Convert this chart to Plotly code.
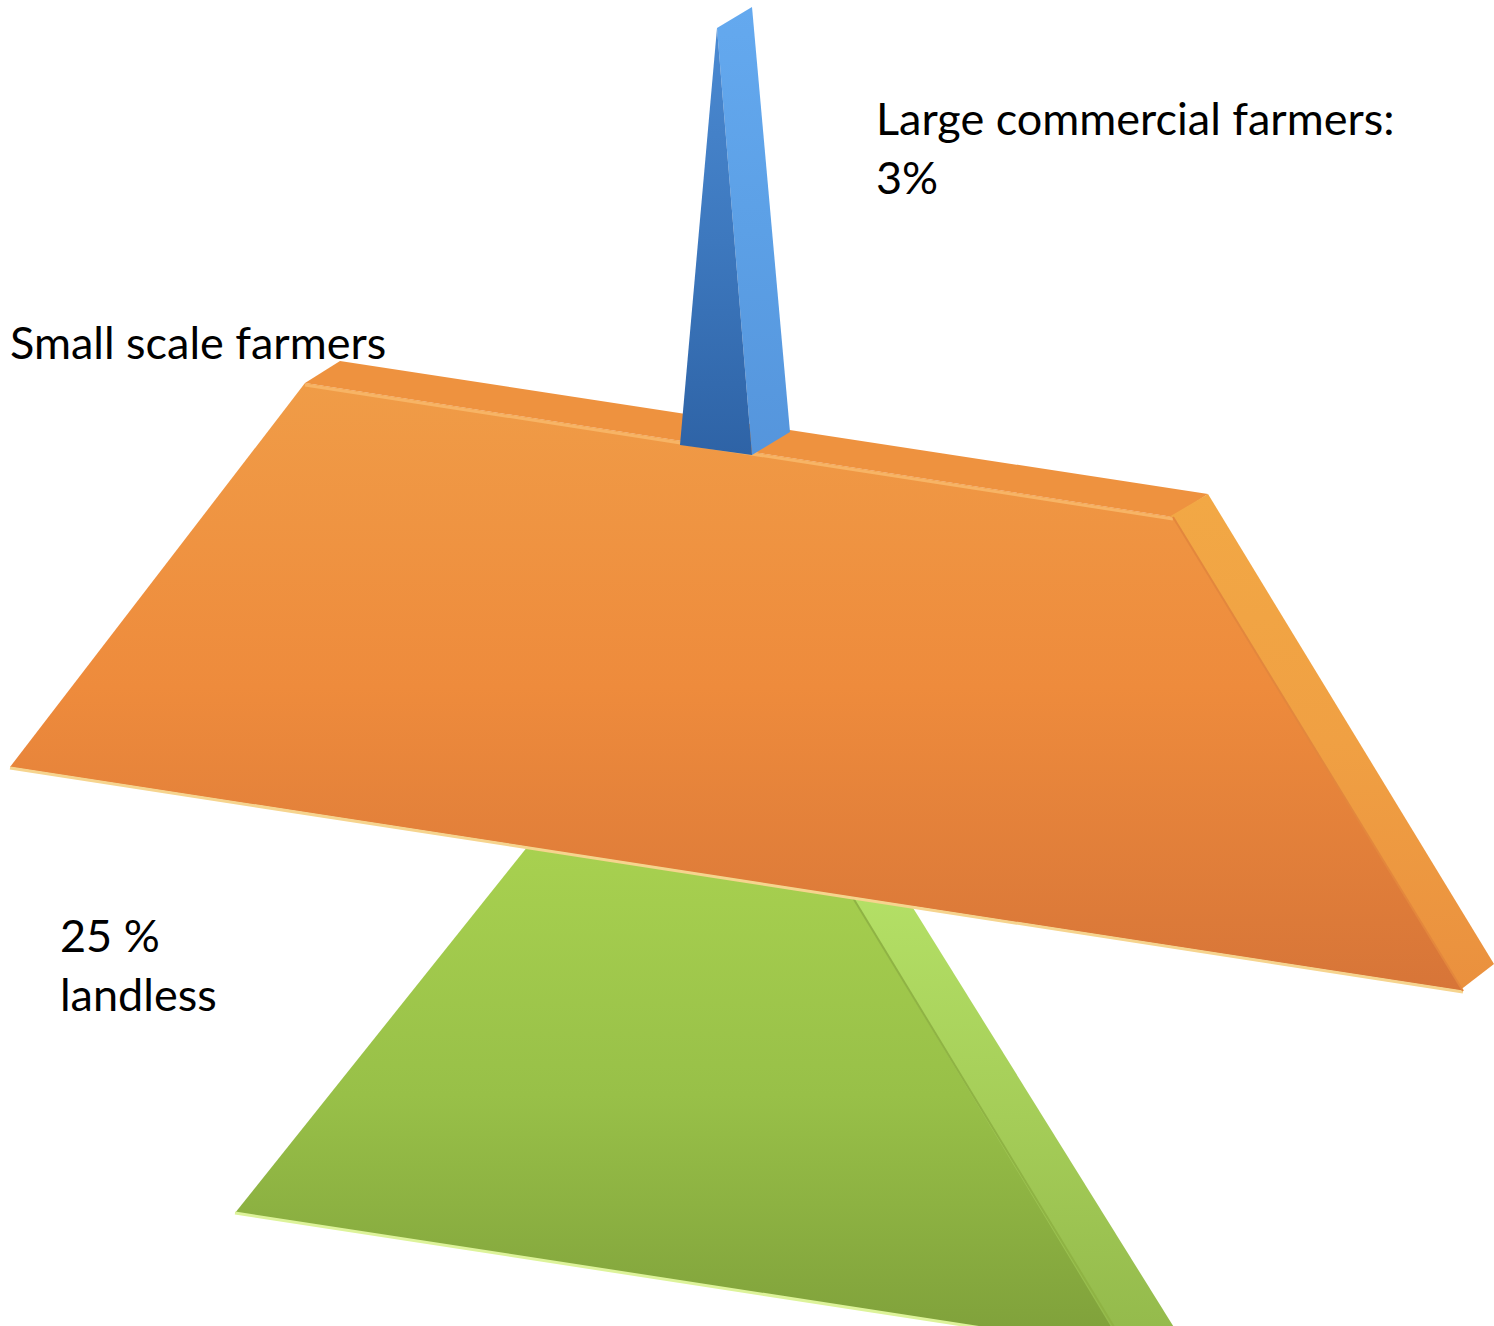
import plotly.graph_objects as go

# ---------------- data ----------------
categories = ["Large commercial farmers", "Small scale farmers", "Landless"]
shares = [3, 72, 25]
label_texts = ["Large commercial farmers:<br>3%", "Small scale farmers", "25 %<br>landless"]

# ---------------- diagram geometry (canvas units, y downwards) ----------------
W, H = 1494, 1326
geom = {
    "Landless": {
        "faces": [
            # right side face (inner edge tucked under the front face)
            ([843, 905, 1185, 1118], [888, 895, 1345, 1345],
             ["#B4E066", "#A5CD58", "#93B94B"]),
            # front face
            ([532, 847, 1125, 235], [841, 888, 1350, 1213],
             ["#A8D150", "#98C048", "#7E9F3A"]),
        ],
        "edges": [([235, 1125], [1213, 1350], "#DDF39A", 3),
                  ([847, 1125], [888, 1345], "#8FB344", 2)],
    },
    "Small scale farmers": {
        "faces": [
            # top face
            ([305, 340, 1208, 1173], [383, 361, 494, 517],
             ["#EE923F", "#EE923F", "#EE923F"]),
            # right side face
            ([1169, 1208, 1494, 1459], [517, 494, 964, 991],
             ["#F2A845", "#F0A043", "#EA903E"]),
            # front face
            ([305, 1173, 1463, 10], [383, 517, 991, 767],
             ["#F09C47", "#EE8B3C", "#D77538"]),
        ],
        "edges": [([305, 1173], [385, 519], "#F7B465", 3),
                  ([10, 1463], [768, 992], "#F6D48E", 3),
                  ([1173, 1463], [517, 991], "#E3873D", 2)],
    },
    "Large commercial farmers": {
        "faces": [
            # light right face
            ([717, 752, 790, 752], [28, 7, 432, 455],
             ["#64A9EF", "#5CA0E6", "#5595DC"]),
            # dark left face
            ([717, 752, 680], [28, 455, 445],
             ["#4B8AD2", "#3D78BE", "#2E63A6"]),
        ],
        "edges": [],
    },
}
label_pos = {
    "Large commercial farmers": (874, 147),
    "Small scale farmers": (8, 342),
    "Landless": (58, 964),
}

fig = go.Figure()
draw_order = ["Landless", "Small scale farmers", "Large commercial farmers"]
for cat in draw_order:
    g = geom[cat]
    for xs, ys, (c0, cm, c1) in g["faces"]:
        fig.add_trace(go.Scatter(
            x=xs + [xs[0]], y=ys + [ys[0]], mode="lines", fill="toself",
            line=dict(width=0, color=c0),
            fillgradient=dict(type="vertical", start=min(ys), stop=max(ys),
                              colorscale=[[0, c0], [0.5, cm], [1, c1]]),
            hoverinfo="skip", showlegend=False, name=cat))
    for xs, ys, col, w in g["edges"]:
        fig.add_trace(go.Scatter(x=xs, y=ys, mode="lines",
                                 line=dict(color=col, width=w),
                                 hoverinfo="skip", showlegend=False))

for cat, txt in zip(categories, label_texts):
    x, y = label_pos[cat]
    fig.add_annotation(x=x, y=y, text=txt, showarrow=False, xanchor="left",
                       yanchor="middle", align="left",
                       font=dict(family="Lato", size=45, color="#000000"))

fig.update_layout(
    width=W, height=H, margin=dict(l=0, r=0, t=0, b=0),
    paper_bgcolor="white", plot_bgcolor="white",
    xaxis=dict(range=[0, W], visible=False, fixedrange=True),
    yaxis=dict(range=[H, 0], visible=False, fixedrange=True),
)
fig.write_html("out.html", config={"displayModeBar": False},
               post_script="document.body.style.margin='0';")
